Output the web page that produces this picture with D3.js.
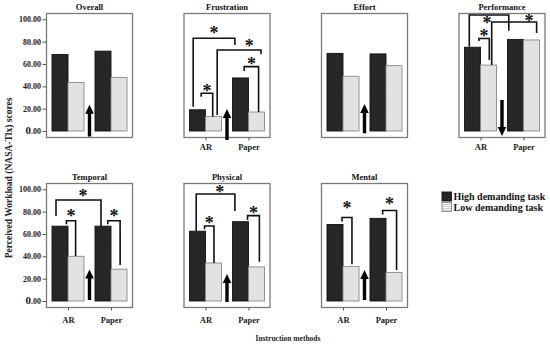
<!DOCTYPE html>
<html><head><meta charset="utf-8">
<script src="https://cdn.jsdelivr.net/npm/d3@7"></script>
<style>
html,body{margin:0;padding:0;background:#fff;}
svg{display:block;font-family:"Liberation Serif","Times New Roman",serif;font-weight:bold;}
</style></head>
<body>
<svg id="chart" width="550" height="348"></svg>
<script>
// ---- data ----
const panels = ["Overall","Frustration","Effort","Performance","Temporal","Physical","Mental"];
const categories = ["AR","Paper"];
const seriesKeys = ["high","low"];
const seriesNames = ["High demanding task","Low demanding task"];
const highAR    = [68.5, 19,   69.5, 75,   67,   62.5, 68.5];
const lowAR     = [43.5, 13,   49,   59,   40,   34,   31];
const highPaper = [71.5, 47.5, 69,   82,   67,   71,   74];
const lowPaper  = [48,   17,   58.5, 81.5, 28.5, 30.5, 25.5];
const yTicks = [0,20,40,60,80,100];
const yTitle = "Perceived Workload (NASA-Tlx) scores";
const xTitle = "Instruction methods";
// significance brackets: panel, from cat/series/frac, to cat/series/frac, leftEnd, top, rightEnd (values), star frac, star value
const brackets = [
  [1,"AR","high",0.23,"Paper","high",0.15,21.8,83,77,0.5,89.8],
  [1,"AR","low",0.73,"Paper","low",0.78,14.3,72.5,68.7,0.73,78.5],
  [1,"AR","high",0.73,"AR","low",0.45,30.7,33.8,12.8,0.5,38.2],
  [1,"Paper","high",0.73,"Paper","low",0.63,53.7,57.6,17,0.5,62],
  [3,"AR","high",0.3,"Paper","high",0.08,75.5,103.8,89.8,0.45,98.8],
  [3,"AR","low",0.7,"Paper","low",0.82,59,97.6,87.7,0.83,100.9],
  [3,"AR","high",0.9,"AR","low",0.55,80.6,82.8,63.6,0.5,87.2],
  [4,"AR","high",0.25,"Paper","high",0.375,76,90.4,67,0.6,95.8],
  [4,"AR","high",0.9,"AR","low",0.475,68.7,71.9,40.3,0.5,77.9],
  [4,"Paper","high",0.8,"Paper","low",0.57,68.7,71.9,32.2,0.5,77.9],
  [5,"AR","high",0.42,"Paper","high",0.15,62.7,95.8,80.6,0.61,99.4],
  [5,"AR","high",0.94,"AR","low",0.53,64.2,67.1,34,0.5,71.9],
  [5,"Paper","high",0.94,"Paper","low",0.68,72.5,76.4,35.2,0.5,80.8],
  [6,"AR","high",0.94,"AR","low",0.56,71.2,74.8,33,0.5,85.9],
  [6,"Paper","high",0.79,"Paper","low",0.66,77.4,81,27.8,0.5,88.9]
];
// arrows: panel, from value, to value (tip)
const arrows = [
  [0,-5,23.5],[1,-8,19.7],[2,-2,24.2],[3,27.8,-4.5],[4,1,28.2],[5,-1,24.2],[6,1,27.8]
];

// ---- layout ----
const W = 86, H = 124, barW = 16;
const colLeft = [46.5, 184, 321.5, 459];
const rowTop = [13.5, 183.5];
const yAxisPanels = [0,4];
const xAxisPanels = [1,3,4,5,6];

const svg = d3.select("#chart");
const defs = svg.append("defs");
const pd = defs.append("pattern").attr("id","darkPat").attr("patternUnits","userSpaceOnUse").attr("width",3).attr("height",3);
pd.append("rect").attr("width",3).attr("height",3).attr("fill","#222");
pd.append("rect").attr("x",0).attr("y",0).attr("width",1).attr("height",1).attr("fill","#3a3a3a");
pd.append("rect").attr("x",1.5).attr("y",1.5).attr("width",1).attr("height",1).attr("fill","#323232");
const pl = defs.append("pattern").attr("id","lightPat").attr("patternUnits","userSpaceOnUse").attr("width",2).attr("height",2);
pl.append("rect").attr("width",2).attr("height",2).attr("fill","#f6f6f6");
pl.append("rect").attr("x",0.5).attr("y",0).attr("width",1).attr("height",1).attr("fill","#a4a4a4");

const fillFor = s => s==="high" ? "url(#darkPat)" : "url(#lightPat)";
const strokeFor = s => s==="high" ? "#111" : "#8a8a8a";

panels.forEach((name,i)=>{
  const row = i<4?0:1, col = i<4?i:i-4;
  const g = svg.append("g").attr("transform",`translate(${colLeft[col]},${rowTop[row]})`);
  const x0 = d3.scalePoint().domain(categories).range([0,W]).padding(0.5);
  const x1 = d3.scaleBand().domain(seriesKeys).range([-barW,barW]);
  const y = d3.scaleLinear().domain([0,100]).range([117.5,5.8]);

  g.append("rect").attr("x",0).attr("y",0).attr("width",W).attr("height",H)
    .attr("fill","#fff").attr("stroke","#7a7a7a").attr("stroke-width",1.3);

  g.append("text").attr("x",W/2).attr("y",-4).attr("text-anchor","middle")
    .attr("font-size","8.5px").attr("fill","#111").text(name);

  const bars = [
    {c:"AR",s:"high",v:highAR[i]},{c:"AR",s:"low",v:lowAR[i]},
    {c:"Paper",s:"high",v:highPaper[i]},{c:"Paper",s:"low",v:lowPaper[i]}
  ];
  g.selectAll("rect.bar").data(bars).enter().append("rect").attr("class","bar")
    .attr("x",d=>x0(d.c)+x1(d.s)).attr("width",x1.bandwidth())
    .attr("y",d=>y(d.v)).attr("height",d=>y(0)-y(d.v))
    .attr("fill",d=>fillFor(d.s)).attr("stroke",d=>strokeFor(d.s)).attr("stroke-width",0.9);

  if (yAxisPanels.includes(i)) {
    const ax = g.append("g").call(d3.axisLeft(y).tickValues(yTicks).tickFormat(d3.format(".2f")).tickSize(4).tickPadding(1.5));
    ax.select(".domain").remove();
    ax.selectAll("line").attr("stroke","#555");
    ax.selectAll("text").attr("font-size","8px").attr("fill","#1a1a2a").attr("font-family","Liberation Serif").attr("font-weight","bold");
    ax.selectAll("text").filter(d=>d===0).each(function(){
      const t = d3.select(this); t.text("");
      t.append("tspan").attr("font-size","11px").text("0");
      t.append("tspan").text(".00");
    });
  }
  if (xAxisPanels.includes(i)) {
    const ax = g.append("g").attr("transform",`translate(0,${H})`)
      .call(d3.axisBottom(x0).tickSize(3).tickPadding(row===0?3.5:6.5));
    ax.select(".domain").remove();
    ax.selectAll("line").attr("stroke","#555");
    ax.selectAll("text").attr("font-size","8.5px").attr("fill","#222").attr("font-family","Liberation Serif").attr("font-weight","bold");
  }

  // brackets
  brackets.filter(b=>b[0]===i).forEach(b=>{
    const xl = x0(b[1])+x1(b[2])+b[3]*x1.bandwidth();
    const xr = x0(b[4])+x1(b[5])+b[6]*x1.bandwidth();
    g.append("path").attr("d",`M${xl},${y(b[7])}V${y(b[8])}H${xr}V${y(b[9])}`)
      .attr("fill","none").attr("stroke","#111").attr("stroke-width",1.6);
    const fs = 18;
    g.append("text").attr("x",xl+b[10]*(xr-xl)).attr("y",y(b[11])+0.47*fs)
      .attr("text-anchor","middle").attr("font-size",fs+"px").attr("fill","#111").text("*");
  });

  // arrows
  arrows.filter(a=>a[0]===i).forEach(a=>{
    const cx = (x0("AR")+x0("Paper"))/2;
    const yb = y(a[1]), yt = y(a[2]);
    const dir = yt<yb ? 1 : -1; // 1 = up
    const sw = 1.7, hw = 4.3, hl = 9;
    const yh = yt + dir*hl;
    const pts = [[cx-sw,yb],[cx-sw,yh],[cx-hw,yh],[cx,yt],[cx+hw,yh],[cx+sw,yh],[cx+sw,yb]];
    g.append("path").attr("d",d3.line()(pts)+"Z").attr("fill","#000");
  });
});

// axis titles
svg.append("text").attr("transform","translate(11.5,178) rotate(-90)").attr("text-anchor","middle")
  .attr("font-size","9.5px").attr("fill","#222").text(yTitle);
svg.append("text").attr("x",288).attr("y",341).attr("text-anchor","middle")
  .attr("font-size","7.5px").attr("fill","#222").text(xTitle);

// legend
const lg = svg.append("g").attr("transform","translate(442,192)");
seriesKeys.forEach((s,k)=>{
  lg.append("rect").attr("x",0).attr("y",k*10.5).attr("width",9.5).attr("height",9)
    .attr("fill",fillFor(s)).attr("stroke",strokeFor(s)).attr("stroke-width",0.9);
  lg.append("text").attr("x",11.5).attr("y",k*10.5+8.2).attr("font-size","10px").attr("fill","#111").text(seriesNames[k]);
});
</script>
</body></html>
